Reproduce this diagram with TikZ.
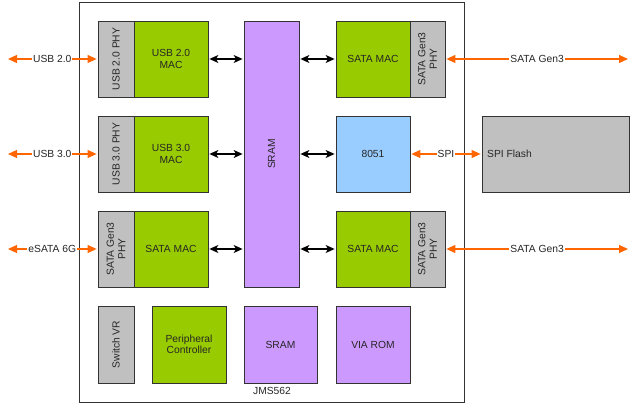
\documentclass[tikz,border=0pt]{standalone}
\usepackage{fontspec}
\setmainfont{Liberation Sans}
\usetikzlibrary{arrows.meta}
\definecolor{cgreen}{HTML}{99CC00}
\definecolor{cpurple}{HTML}{CC99FF}
\definecolor{cblue}{HTML}{99CCFF}
\definecolor{cgray}{HTML}{C0C0C0}
\definecolor{corange}{HTML}{FF6600}
\definecolor{cline}{HTML}{333333}
\begin{document}
\begin{tikzpicture}[x=1pt,y=-1pt,
  every node/.style={font=\fontsize{10.3}{11.5}\selectfont, text=black!85},
  blk/.style={draw=cline, line width=0.8pt, inner sep=0pt, align=center},
  gblk/.style={blk, fill=cgray},
  grblk/.style={blk, fill=cgreen},
  pblk/.style={blk, fill=cpurple},
  bblk/.style={blk, fill=cblue},
  barrow/.style={line width=1.1pt, black, {Stealth[length=9pt,width=8pt,inset=2.5pt]}-{Stealth[length=9pt,width=8pt,inset=2.5pt]}, shorten <=1pt, shorten >=1pt},
  oarrow/.style={line width=1.1pt, corange, {Triangle[length=9pt,width=8pt]}-{Triangle[length=9pt,width=8pt]}, shorten <=1pt, shorten >=1pt},
  olbl/.style={fill=white, inner sep=1pt, text=black!85}
]
\useasboundingbox (0,0) rectangle (638,411);
% chip
\node[draw=cline, line width=0.8pt, minimum width=385pt, minimum height=400pt, inner sep=0pt] (chip) at (271.5,202) {};
% row 1
\node[gblk, minimum width=36pt, minimum height=76pt] (phy1) at (116,59) {};
\node[rotate=90] at (phy1.center) {USB 2.0 PHY};
\node[grblk, minimum width=74pt, minimum height=76pt] (mac1) at (171,59) {USB 2.0\\MAC};
% row 2
\node[gblk, minimum width=36pt, minimum height=76pt] (phy2) at (116,154) {};
\node[rotate=90] at (phy2.center) {USB 3.0 PHY};
\node[grblk, minimum width=74pt, minimum height=76pt] (mac2) at (171,154) {USB 3.0\\MAC};
% row 3
\node[gblk, minimum width=36pt, minimum height=76pt] (phy3) at (116,249) {};
\node[rotate=90, align=center] at (phy3.center) {SATA Gen3\\PHY};
\node[grblk, minimum width=74pt, minimum height=76pt] (mac3) at (171,249) {SATA MAC};
% SRAM tall
\node[pblk, minimum width=55pt, minimum height=266pt] (sram) at (271.5,154) {};
\node[rotate=90] at (sram.center) {SRAM};
% right column
\node[grblk, minimum width=74pt, minimum height=76pt] (smac1) at (373,59) {SATA MAC};
\node[gblk, minimum width=35pt, minimum height=76pt] (sphy1) at (427.5,59) {};
\node[rotate=90, align=center] at (sphy1.center) {SATA Gen3\\PHY};
\node[bblk, minimum width=74pt, minimum height=76pt] (cpu) at (373,154) {8051};
\node[grblk, minimum width=74pt, minimum height=76pt] (smac2) at (373,249) {SATA MAC};
\node[gblk, minimum width=35pt, minimum height=76pt] (sphy2) at (427.5,249) {};
\node[rotate=90, align=center] at (sphy2.center) {SATA Gen3\\PHY};
% SPI flash
\node[gblk, minimum width=147pt, minimum height=76pt] (flash) at (555.5,154) {};
\node[anchor=west, inner sep=0pt] at (487,154) {SPI Flash};
% bottom row
\node[gblk, minimum width=36pt, minimum height=77pt] (svr) at (116,344.5) {};
\node[rotate=90] at (svr.center) {Switch VR};
\node[grblk, minimum width=74pt, minimum height=77pt] (periph) at (189,344.5) {Peripheral\\Controller};
\node[pblk, minimum width=73pt, minimum height=77pt] (sram2) at (280.5,344.5) {SRAM};
\node[pblk, minimum width=74pt, minimum height=77pt] (rom) at (373,344.5) {VIA ROM};
\node (jms) at (272,391) {JMS562};
% black arrows
\draw[barrow] (mac1.east) -- (mac1.east -| sram.west);
\draw[barrow] (mac2.east) -- (mac2.east -| sram.west);
\draw[barrow] (mac3.east) -- (mac3.east -| sram.west);
\draw[barrow] (smac1.west -| sram.east) -- (smac1.west);
\draw[barrow] (cpu.west -| sram.east) -- (cpu.west);
\draw[barrow] (smac2.west -| sram.east) -- (smac2.west);
% orange arrows
\coordinate (l1) at (7,59);
\coordinate (l2) at (7,154);
\coordinate (l3) at (7,249);
\coordinate (r1) at (629,59);
\coordinate (r3) at (629,249);
\draw[oarrow] (l1) -- node[olbl]{USB 2.0} (phy1.west);
\draw[oarrow] (l2) -- node[olbl]{USB 3.0} (phy2.west);
\draw[oarrow] (l3) -- node[olbl]{eSATA 6G} (phy3.west);
\draw[oarrow] (sphy1.east) -- node[olbl]{SATA Gen3} (r1);
\draw[oarrow] (sphy2.east) -- node[olbl]{SATA Gen3} (r3);
\draw[oarrow] (cpu.east) -- node[olbl]{SPI} (flash.west);
\end{tikzpicture}
\end{document}
